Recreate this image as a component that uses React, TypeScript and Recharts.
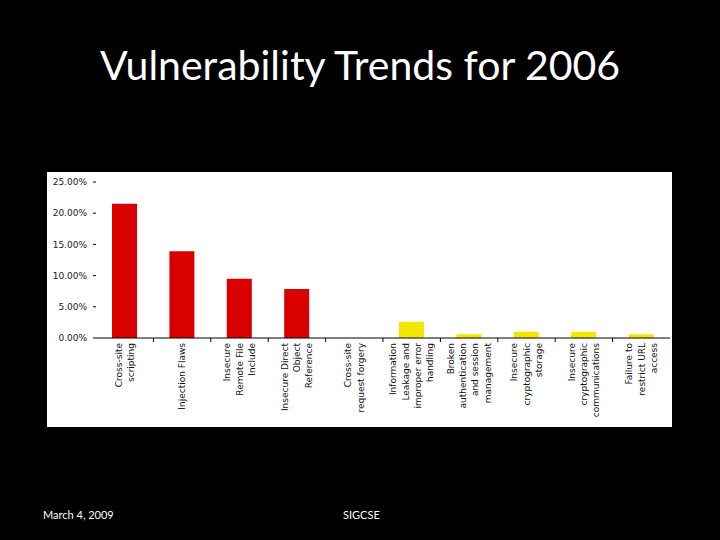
import { Bar, BarChart, Cell, XAxis, YAxis } from "recharts";

const categories = [
  "Cross-site\nscripting",
  "Injection Flaws",
  "Insecure\nRemote File\nInclude",
  "Insecure Direct\nObject\nReference",
  "Cross-site\nrequest forgery",
  "Information\nLeakage and\nimproper error\nhandling",
  "Broken\nauthentication\nand session\nmanagement",
  "Insecure\ncryptographic\nstorage",
  "Insecure\ncryptographic\ncommunications",
  "Failure to\nrestrict URL\naccess",
];
const shares = [21.5, 13.9, 9.5, 7.85, 0, 2.6, 0.6, 1.0, 1.0, 0.6];
const barColors = ["#d90000", "#d90000", "#d90000", "#d90000", "#d90000", "#f5e600", "#f5e600", "#f5e600", "#f5e600", "#f5e600"];
const yTicks = [0, 5, 10, 15, 20, 25];

const data = categories.map((name, i) => ({ name, share: shares[i] }));

const CHART_W = 625;
const CHART_H = 255;
const Y_AXIS_W = 49;
const RIGHT = 2;
const BAND = (CHART_W - Y_AXIS_W - RIGHT) / categories.length;

function CategoryTick(props: any) {
  const { x, y, payload, index } = props;
  const lines = String(payload.value).split("\n");
  const n = lines.length;
  return (
    <g>
      {index < categories.length - 1 && (
        <line x1={x + BAND / 2} x2={x + BAND / 2} y1={y} y2={y + 4} stroke="#000" />
      )}
      <text
        transform={`translate(${x},${y + 5}) rotate(-90)`}
        textAnchor="end"
        fontSize={9}
        fontFamily="DejaVu Sans"
        fill="#111"
      >
        {lines.map((l, i) => (
          <tspan key={i} x={0} y={(i - (n - 1) / 2) * 12.3 + 3.2}>
            {l}
          </tspan>
        ))}
      </text>
    </g>
  );
}

export default function App() {
  return (
    <div style={{ position: "absolute", left: 0, top: 0, width: 720, height: 540, background: "#000", overflow: "hidden" }}>
      <svg width={720} height={540} style={{ position: "absolute", left: 0, top: 0 }}>
        <text x={360} y={80} textAnchor="middle" fill="#fff" fontFamily="Lato" fontSize={41}>
          Vulnerability Trends for 2006
        </text>
        <text x={43} y={519} fill="#fff" fontFamily="Lato" fontSize={11}>
          March 4, 2009
        </text>
        <text x={343} y={519} fill="#fff" fontFamily="Lato" fontSize={11}>
          SIGCSE
        </text>
      </svg>
      <div style={{ position: "absolute", left: 47, top: 172, width: CHART_W, height: CHART_H, background: "#fff" }}>
        <BarChart width={CHART_W} height={CHART_H} data={data} margin={{ top: 10, right: RIGHT, left: 0, bottom: 0 }}>
          <YAxis
            width={Y_AXIS_W}
            domain={[0, 25]}
            ticks={yTicks}
            interval={0}
            axisLine={false}
            tickSize={3}
            tickMargin={6}
            tickLine={{ stroke: "#000" }}
            tickFormatter={(v: number) => `${v.toFixed(2)}%`}
            tick={{ fontSize: 9, fontFamily: "DejaVu Sans", fill: "#222" }}
          />
          <XAxis
            dataKey="name"
            height={89}
            interval={0}
            axisLine={{ stroke: "#000" }}
            tickLine={false}
            tickSize={0}
            tickMargin={0}
            tick={<CategoryTick />}
          />
          <Bar dataKey="share" barSize={25} isAnimationActive={false}>
            {data.map((_, i) => (
              <Cell key={`bar-${i}`} fill={barColors[i]} />
            ))}
          </Bar>
        </BarChart>
      </div>
    </div>
  );
}
